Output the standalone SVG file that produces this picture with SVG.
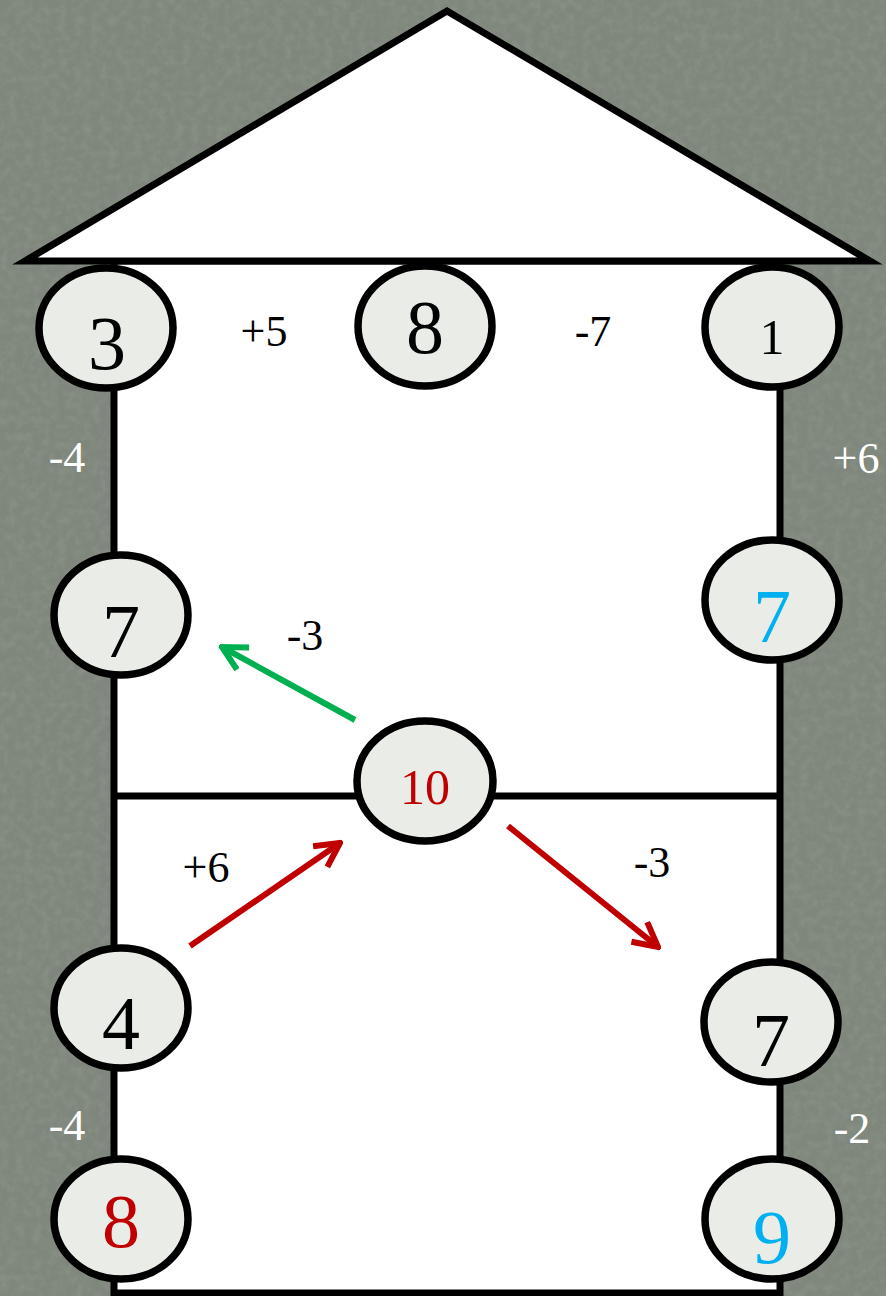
<svg xmlns="http://www.w3.org/2000/svg" width="886" height="1296" viewBox="0 0 886 1296">
<style>
  .node ellipse { fill: #eaede7; stroke: #000; stroke-width: 7.5; }
  .num { font-family: "Liberation Serif", "DejaVu Serif", serif; text-anchor: middle; font-size: 76px; fill: #000; }
  .small { font-size: 50px; }
  .red { fill: #c00000; }
  .blue { fill: #00b0f0; }
  .lbl { font-family: "Liberation Serif", "DejaVu Serif", serif; text-anchor: middle; font-size: 44px; fill: #000; }
  .wht { fill: #ffffff; }
  .wall { fill: none; stroke: #000; stroke-width: 7; }
  .arr { fill: none; stroke-width: 6; }
</style>
<defs>
  <filter id="grain" x="0" y="0" width="100%" height="100%">
    <feTurbulence type="fractalNoise" baseFrequency="0.12" numOctaves="3" seed="4"/>
    <feColorMatrix type="matrix" values="0 0 0 0 0.45  0 0 0 0 0.48  0 0 0 0 0.43  0 0 0 1.2 -0.45"/>
  </filter>
  <marker id="ahG" viewBox="0 0 10 10" refX="9" refY="5" markerWidth="5" markerHeight="5" orient="auto" markerUnits="strokeWidth">
    <path d="M1,0.8 L9,5 L1,9.2" fill="none" stroke="#00b050" stroke-width="2"/>
  </marker>
  <marker id="ahR" viewBox="0 0 10 10" refX="9" refY="5" markerWidth="5" markerHeight="5" orient="auto" markerUnits="strokeWidth">
    <path d="M1,0.8 L9,5 L1,9.2" fill="none" stroke="#c00000" stroke-width="2"/>
  </marker>
</defs>

<rect x="0" y="0" width="886" height="1296" fill="#7f877c"/>
<rect x="0" y="0" width="886" height="1296" filter="url(#grain)" opacity="0.3"/>

<g id="house">
  <rect x="114" y="261" width="666" height="1032" fill="#ffffff" stroke="#000" stroke-width="7"/>
  <polygon points="25,261 447,11 870,261" fill="#ffffff" stroke="#000" stroke-width="7" stroke-linejoin="miter"/>
  <line x1="114" y1="796" x2="780" y2="796" class="wall"/>
</g>

<g id="connectors">
  <line x1="355" y1="720" x2="222" y2="647" class="arr" stroke="#00b050" marker-end="url(#ahG)"/>
  <line x1="190" y1="946" x2="340" y2="843" class="arr" stroke="#c00000" marker-end="url(#ahR)"/>
  <line x1="508" y1="826" x2="658" y2="947" class="arr" stroke="#c00000" marker-end="url(#ahR)"/>
</g>

<g id="node-top-left" class="node">
  <ellipse cx="106" cy="328" rx="67" ry="60"/>
  <text x="107" y="369" class="num">3</text>
</g>
<g id="node-top-mid" class="node">
  <ellipse cx="425" cy="326" rx="67" ry="60"/>
  <text x="425" y="353" class="num">8</text>
</g>
<g id="node-top-right" class="node">
  <ellipse cx="772" cy="327" rx="67" ry="60"/>
  <text x="772" y="354" class="num small">1</text>
</g>
<g id="node-mid-left" class="node">
  <ellipse cx="121" cy="615" rx="67" ry="60"/>
  <text x="121" y="657" class="num">7</text>
</g>
<g id="node-mid-right" class="node">
  <ellipse cx="772" cy="600" rx="67" ry="60"/>
  <text x="772" y="642" class="num blue">7</text>
</g>
<g id="node-center" class="node">
  <ellipse cx="425" cy="781" rx="68" ry="60"/>
  <text x="425" y="804" class="num small red">10</text>
</g>
<g id="node-low-left" class="node">
  <ellipse cx="121" cy="1008" rx="67" ry="60"/>
  <text x="121" y="1049" class="num">4</text>
</g>
<g id="node-low-right" class="node">
  <ellipse cx="771" cy="1022" rx="67" ry="60"/>
  <text x="771" y="1066" class="num">7</text>
</g>
<g id="node-bottom-left" class="node">
  <ellipse cx="121" cy="1219" rx="67" ry="60"/>
  <text x="121" y="1247" class="num red">8</text>
</g>
<g id="node-bottom-right" class="node">
  <ellipse cx="772" cy="1219" rx="67" ry="60"/>
  <text x="772" y="1263" class="num blue">9</text>
</g>

<g id="labels">
  <text x="264" y="346" class="lbl">+5</text>
  <text x="593" y="346" class="lbl">-7</text>
  <text x="67" y="472" class="lbl wht">-4</text>
  <text x="856" y="473" class="lbl wht">+6</text>
  <text x="305" y="650" class="lbl">-3</text>
  <text x="206" y="882" class="lbl">+6</text>
  <text x="652" y="877" class="lbl">-3</text>
  <text x="67" y="1140" class="lbl wht">-4</text>
  <text x="852" y="1143" class="lbl wht">-2</text>
</g>
</svg>
